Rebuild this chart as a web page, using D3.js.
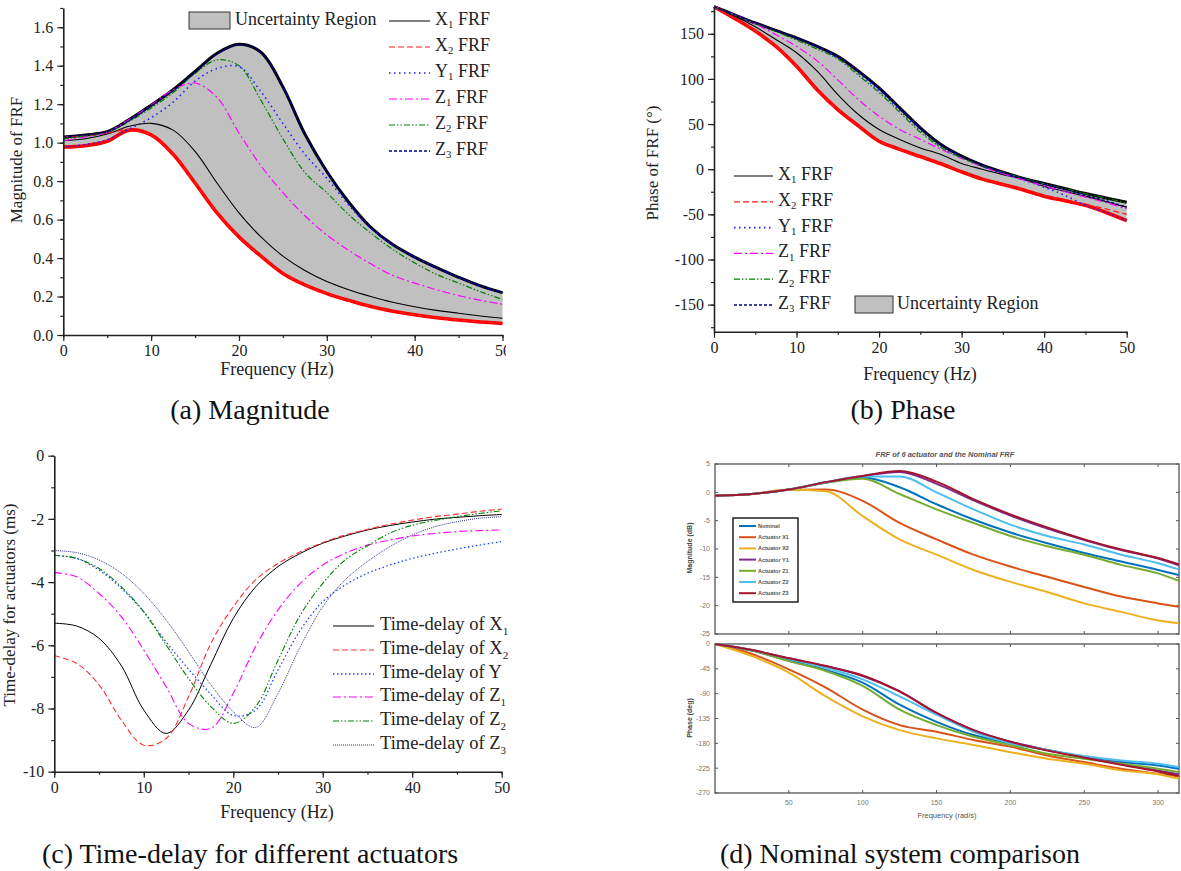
<!DOCTYPE html>
<html>
<head>
<meta charset="utf-8">
<script src="https://cdn.jsdelivr.net/npm/d3@7"></script>
<style>
  body { margin: 0; background: #fff; }
  svg { display: block; font-family: "Liberation Serif", "Times New Roman", serif; }
</style>
</head>
<body>
<svg id="fig" width="1181" height="871"></svg>
<script>
// ---- data ----
const freqHz = [0, 2.5, 5, 7.5, 10, 12.5, 15, 17.5, 20, 22.5, 25, 27.5, 30, 32.5, 35, 37.5, 40, 42.5, 45, 47.5, 50];

// (a) magnitude of FRF
const magUpper = [1.03, 1.04, 1.057, 1.12, 1.195, 1.275, 1.37, 1.465, 1.512, 1.47, 1.29, 1.045, 0.85, 0.69, 0.56, 0.47, 0.405, 0.35, 0.30, 0.255, 0.22];
const magLower = [0.977, 0.984, 1.007, 1.065, 1.04, 0.94, 0.79, 0.635, 0.51, 0.41, 0.32, 0.26, 0.215, 0.18, 0.148, 0.124, 0.105, 0.09, 0.078, 0.068, 0.06];
const magX1 = [1.01, 1.02, 1.045, 1.085, 1.10, 1.065, 0.955, 0.79, 0.635, 0.51, 0.41, 0.335, 0.278, 0.235, 0.2, 0.17, 0.147, 0.128, 0.113, 0.099, 0.087];
const magX2 = [1.03, 1.035, 1.05, 1.068, 1.04, 0.94, 0.79, 0.635, 0.51, 0.41, 0.32, 0.26, 0.215, 0.18, 0.148, 0.124, 0.105, 0.09, 0.078, 0.068, 0.06];
const magY1 = [0.977, 0.99, 1.015, 1.07, 1.13, 1.21, 1.32, 1.385, 1.395, 1.265, 1.1, 0.94, 0.815, 0.675, 0.555, 0.47, 0.405, 0.35, 0.30, 0.255, 0.22];
const magZ1 = [1.01, 1.03, 1.055, 1.12, 1.195, 1.275, 1.31, 1.235, 1.05, 0.88, 0.74, 0.62, 0.52, 0.44, 0.37, 0.31, 0.27, 0.235, 0.205, 0.18, 0.16];
const magZ2 = [1.02, 1.035, 1.055, 1.11, 1.18, 1.26, 1.36, 1.43, 1.40, 1.22, 1.02, 0.845, 0.74, 0.625, 0.53, 0.445, 0.375, 0.315, 0.27, 0.225, 0.185];
const magZ3 = [1.03, 1.04, 1.057, 1.115, 1.19, 1.27, 1.365, 1.46, 1.51, 1.468, 1.29, 1.045, 0.85, 0.69, 0.56, 0.47, 0.405, 0.35, 0.30, 0.255, 0.22];

// (b) phase of FRF (deg)
const phUpper = [180, 171, 162, 153.7, 145.5, 136, 125, 108.6, 90, 68, 45.8, 27.3, 14.4, 4.4, -3.3, -10.3, -15.9, -21.4, -27, -31.8, -36.6];
const phLower = [180, 167, 153, 136, 114, 88, 66, 48, 31, 22, 14, 6, -3, -11, -17, -23, -30, -35, -40, -48, -57];
const phX1 = [180, 169.6, 157.7, 143.7, 129, 108.6, 82.7, 60.6, 44, 33, 23.6, 16.2, 6.3, 0, -6, -11.5, -19, -24.5, -30, -36, -42];
const phX2 = [180, 167, 153, 136, 114, 88, 66, 48, 31, 22, 14, 6, -3, -11, -17, -23, -29, -34, -39, -44, -50];
const phY1 = [180, 171, 162, 153.5, 145, 135, 123, 106, 87, 65, 43, 25, 13, 3, -5, -12, -20, -29, -40, -48, -57];
const phZ1 = [180, 171, 161, 149, 136, 120, 99, 77, 58.7, 44, 33, 22, 12, 3, -5, -12, -18.5, -25, -31, -37, -44];
const phZ2 = [180, 170.5, 161.5, 152.5, 143, 133, 122, 104, 85, 63, 41, 24, 12.5, 3.5, -3.5, -10, -16, -21.5, -27, -32, -37.5];
const phZ3 = [180, 171, 162, 153.7, 145.5, 136, 125, 108.6, 90, 68, 45.8, 27.3, 14.4, 4.4, -3.3, -10.3, -16.5, -22.5, -29, -35, -42];

// (c) time-delay (ms)
const tdX1 = [-5.3, -5.39, -5.78, -6.65, -8.05, -8.79, -8.05, -6.6, -5.15, -4.15, -3.51, -3.09, -2.77, -2.54, -2.35, -2.21, -2.1, -2.01, -1.95, -1.9, -1.86];
const tdX2 = [-6.33, -6.57, -7.25, -8.37, -9.16, -8.95, -7.63, -5.94, -4.78, -3.93, -3.41, -3.04, -2.75, -2.51, -2.33, -2.17, -2.04, -1.93, -1.85, -1.76, -1.69];
const tdY = [-3.15, -3.25, -3.62, -4.2, -4.94, -5.9, -6.75, -7.55, -8.22, -8.05, -6.78, -5.52, -4.62, -4.09, -3.72, -3.46, -3.25, -3.09, -2.95, -2.83, -2.72];
const tdZ1 = [-3.7, -3.83, -4.36, -5.1, -6.15, -7.31, -8.47, -8.63, -7.52, -6.04, -4.88, -4.04, -3.46, -3.09, -2.83, -2.67, -2.54, -2.46, -2.4, -2.37, -2.35];
const tdZ2 = [-3.15, -3.25, -3.57, -4.15, -4.94, -5.99, -7.05, -7.94, -8.47, -7.94, -6.47, -5.04, -4.04, -3.3, -2.85, -2.45, -2.2, -2.05, -1.93, -1.83, -1.74];
const tdZ3 = [-3.0, -3.07, -3.3, -3.72, -4.36, -5.2, -6.2, -7.25, -8.1, -8.6, -7.52, -6.04, -4.78, -3.93, -3.35, -2.88, -2.51, -2.25, -2.09, -1.98, -1.93];

// (d) nominal comparison, frequency in rad/s
const freqRad = [0, 25, 50, 75, 100, 125, 150, 175, 200, 225, 250, 275, 300, 314];
const dMagNominal = [-0.6, -0.3, 0.5, 1.7, 2.6, 0.9, -2.1, -4.8, -7.1, -9.0, -10.7, -12.2, -13.7, -14.6];
const dMagX1 = [-0.6, -0.3, 0.45, 0.5, -1.5, -5.4, -8.3, -11, -13.1, -14.9, -16.7, -18.4, -19.6, -20.2];
const dMagX2 = [-0.6, -0.3, 0.5, 0.2, -4.2, -8.3, -11, -13.7, -15.8, -17.6, -19.6, -21.1, -22.6, -23.1];
const dMagY1 = [-0.6, -0.3, 0.5, 1.8, 2.9, 3.6, 1.5, -1.4, -4.1, -6.4, -8.4, -10.2, -11.7, -12.9];
const dMagZ1 = [-0.6, -0.3, 0.5, 1.7, 2.4, -0.3, -3.0, -5.4, -7.7, -9.5, -11, -12.8, -14.3, -15.6];
const dMagZ2 = [-0.6, -0.3, 0.5, 1.8, 2.8, 2.8, 0, -3, -5.7, -7.7, -9.2, -11, -12.5, -13.6];
const dMagZ3 = [-0.6, -0.3, 0.5, 1.8, 2.9, 3.75, 1.9, -1.2, -3.9, -6.2, -8.3, -10.1, -11.6, -12.7];

const dPhNominal = [0, -12, -30, -47, -70, -110, -141, -165, -180, -192, -205, -214, -220, -226];
const dPhX1 = [0, -18, -46, -79, -119, -147, -159, -174, -186, -202, -214, -226, -235, -240];
const dPhX2 = [0, -22, -52, -95, -131, -156, -171, -183, -196, -208, -217, -229, -236, -244];
const dPhY1 = [0, -11, -26, -40, -58, -86, -125, -156, -177, -192, -205, -217, -229, -236];
const dPhZ1 = [0, -12, -31, -49, -76, -119, -147, -168, -183, -199, -208, -217, -226, -232];
const dPhZ2 = [0, -11, -27, -43, -64, -95, -128, -159, -180, -192, -203, -211, -217, -223];
const dPhZ3 = [0, -11, -26, -40, -57, -86, -125, -156, -177, -193, -206, -219, -231, -239];

// ---- styles ----
const lineStyle = {
    X1: { color: "#000000", dash: null, w: 1.1 },
    X2: { color: "#ff1a1a", dash: "6,3", w: 1.2 },
    Y1: { color: "#1f1fff", dash: "1.5,3.5", w: 1.6 },
    Z1: { color: "#ff00ff", dash: "8,3,2,3", w: 1.2 },
    Z2: { color: "#008000", dash: "6,2,1.5,2,1.5,2", w: 1.2 },
    Z3: { color: "#000090", dash: "3,2", w: 1.4 }
};
const matlabColors = ["#0072BD", "#D95319", "#EDB120", "#7E2F8E", "#77AC30", "#4DBEEE", "#A2142F"];

const svg = d3.select("#fig");
const ink = "#222";
const serif = "Liberation Serif";

// label with a subscript, e.g. X<sub>1</sub> FRF
function subLabel(sel, x, y, base, sub, tail, size) {
    const t = sel.append("text")
        .attr("x", x).attr("y", y)
        .attr("font-family", serif)
        .attr("font-size", size)
        .attr("fill", ink)
        .attr("dominant-baseline", "middle");
    t.append("tspan").text(base);
    if (sub) {
        t.append("tspan").text(sub).attr("font-size", size * 0.6).attr("dy", size * 0.3);
        t.append("tspan").text(tail).attr("dy", -size * 0.3);
    } else {
        t.append("tspan").text(tail);
    }
    return t;
}

function title(sel, x, y, txt, size, rotate) {
    return sel.append("text")
        .attr("transform", `translate(${x},${y})` + (rotate ? " rotate(-90)" : ""))
        .attr("text-anchor", "middle")
        .attr("font-family", serif)
        .attr("font-size", size)
        .attr("fill", ink)
        .text(txt);
}

// Origin-style axes: left + bottom spines, outward major/minor ticks
function originAxes(g, x, y, xMajor, xMinor, yMajor, yMinor, yFmt) {
    const [y0] = y.range();
    const [x0] = x.range();
    g.append("g").attr("transform", `translate(0,${y0})`)
        .call(d3.axisBottom(x).tickValues(xMinor).tickSize(3).tickFormat(""))
        .call(a => a.select(".domain").remove());
    g.append("g").attr("transform", `translate(0,${y0})`)
        .call(d3.axisBottom(x).tickValues(xMajor).tickSize(6).tickSizeOuter(0).tickPadding(4).tickFormat(d => String(d)))
        .call(a => a.selectAll("text").attr("font-size", 16).attr("font-family", serif).attr("fill", ink));
    g.append("g").attr("transform", `translate(${x0},0)`)
        .call(d3.axisLeft(y).tickValues(yMinor).tickSize(3).tickFormat(""))
        .call(a => a.select(".domain").remove());
    g.append("g").attr("transform", `translate(${x0},0)`)
        .call(d3.axisLeft(y).tickValues(yMajor).tickSize(6).tickSizeOuter(0).tickPadding(4).tickFormat(yFmt))
        .call(a => a.selectAll("text").attr("font-size", 16).attr("font-family", serif).attr("fill", ink));
    g.selectAll(".domain").attr("stroke", ink).attr("stroke-width", 1.6);
    g.selectAll(".tick line").attr("stroke", ink).attr("stroke-width", 1.2);
}

function drawSeries(g, x, y, xs, ys, st, curve) {
    const line = d3.line().x((d, i) => x(xs[i])).y(d => y(d)).curve(curve || d3.curveCatmullRom);
    g.append("path").datum(ys)
        .attr("d", line)
        .attr("fill", "none")
        .attr("stroke", st.color)
        .attr("stroke-width", st.w)
        .attr("stroke-dasharray", st.dash);
}

function drawBand(g, x, y, lower, upper) {
    const area = d3.area().x((d, i) => x(freqHz[i])).y0(d => y(d)).y1((d, i) => y(upper[i])).curve(d3.curveCatmullRom);
    g.append("path").datum(lower).attr("d", area).attr("fill", "#c0c0c0");
    drawSeries(g, x, y, freqHz, upper, { color: "#000", dash: null, w: 3 });
    drawSeries(g, x, y, freqHz, lower, { color: "#ff0000", dash: null, w: 3.6 });
}

const seriesKeys = ["X1", "X2", "Y1", "Z1", "Z2", "Z3"];
const hzTicks = d3.range(0, 51, 10);
const hzMinor = d3.range(0, 51, 5);

// ---------- (a) Magnitude ----------
svg.append("clipPath").attr("id", "clipA").append("rect").attr("x", 0).attr("y", 0).attr("width", 506).attr("height", 430);
const gA = svg.append("g").attr("clip-path", "url(#clipA)");
const xA = d3.scaleLinear().domain([0, 50]).range([63.3, 502.5]);
const yA = d3.scaleLinear().domain([0, 1.7]).range([335, 8]);
drawBand(gA, xA, yA, magLower, magUpper);
const magSets = { X1: magX1, X2: magX2, Y1: magY1, Z1: magZ1, Z2: magZ2, Z3: magZ3 };
seriesKeys.forEach(k => drawSeries(gA, xA, yA, freqHz, magSets[k], lineStyle[k]));
originAxes(gA, xA, yA, hzTicks, hzMinor, d3.range(0, 1.61, 0.2), d3.range(0, 1.71, 0.1), d3.format(".1f"));
title(gA, 277, 375, "Frequency (Hz)", 18);
title(gA, 22, 160, "Magnitude of FRF", 17, true);

// legend (a)
gA.append("rect").attr("x", 189).attr("y", 12).attr("width", 41).attr("height", 17).attr("fill", "#c0c0c0").attr("stroke", "#333").attr("stroke-width", 1);
subLabel(gA, 235, 21, "Uncertainty Region", "", "", 18);
const legA = [["X", "1"], ["X", "2"], ["Y", "1"], ["Z", "1"], ["Z", "2"], ["Z", "3"]];
seriesKeys.forEach((k, i) => {
    const yy = 21 + i * 26;
    const st = lineStyle[k];
    gA.append("line").attr("x1", 389).attr("x2", 430).attr("y1", yy).attr("y2", yy)
        .attr("stroke", st.color).attr("stroke-width", st.w).attr("stroke-dasharray", st.dash);
    subLabel(gA, 435, yy, legA[i][0], legA[i][1], " FRF", 18);
});

// ---------- (b) Phase ----------
const gB = svg.append("g");
const xB = d3.scaleLinear().domain([0, 50]).range([714, 1126.7]);
const yB = d3.scaleLinear().domain([-180, 180]).range([331.7, 6.7]);
drawBand(gB, xB, yB, phLower, phUpper);
const phSets = { X1: phX1, X2: phX2, Y1: phY1, Z1: phZ1, Z2: phZ2, Z3: phZ3 };
seriesKeys.forEach(k => drawSeries(gB, xB, yB, freqHz, phSets[k], lineStyle[k]));
originAxes(gB, xB, yB, hzTicks, hzMinor, d3.range(-150, 151, 50), d3.range(-175, 176, 25), d => String(d));
title(gB, 920, 380, "Frequency (Hz)", 18);
title(gB, 658, 163, "Phase of FRF (°)", 17, true);

seriesKeys.forEach((k, i) => {
    const yy = 176 + i * 25.8;
    const st = lineStyle[k];
    gB.append("line").attr("x1", 734).attr("x2", 773).attr("y1", yy).attr("y2", yy)
        .attr("stroke", st.color).attr("stroke-width", st.w).attr("stroke-dasharray", st.dash);
    subLabel(gB, 778, yy, legA[i][0], legA[i][1], " FRF", 18);
});
gB.append("rect").attr("x", 855).attr("y", 296).attr("width", 38).attr("height", 17).attr("fill", "#c0c0c0").attr("stroke", "#333").attr("stroke-width", 1);
subLabel(gB, 897, 305, "Uncertainty Region", "", "", 18);

// ---------- (c) Time-delay ----------
const gC = svg.append("g");
const xC = d3.scaleLinear().domain([0, 50]).range([54.3, 501.7]);
const yC = d3.scaleLinear().domain([-10, 0]).range([771.7, 455.7]);
const tdStyle = {
    X1: { color: "#000000", dash: null, w: 1 },
    X2: { color: "#ff3030", dash: "6,3", w: 1.1 },
    Y1: { color: "#2040ff", dash: "1.5,2.5", w: 1.3 },
    Z1: { color: "#ff00ff", dash: "8,3,2,3", w: 1.1 },
    Z2: { color: "#008000", dash: "6,2,1.5,2,1.5,2", w: 1.1 },
    Z3: { color: "#303090", dash: "1,1", w: 1 }
};
const tdSets = { X1: tdX1, X2: tdX2, Y1: tdY, Z1: tdZ1, Z2: tdZ2, Z3: tdZ3 };
seriesKeys.forEach(k => drawSeries(gC, xC, yC, freqHz, tdSets[k], tdStyle[k]));
originAxes(gC, xC, yC, hzTicks, hzMinor, d3.range(-10, 1, 2), d3.range(-10, 1, 1), d => String(d));
title(gC, 277, 818, "Frequency (Hz)", 18);
title(gC, 15, 605, "Time-delay for actuators (ms)", 17, true);

const legC = [["X", "1"], ["X", "2"], ["Y", ""], ["Z", "1"], ["Z", "2"], ["Z", "3"]];
const legCy = [626, 650, 674, 697, 721, 745];
seriesKeys.forEach((k, i) => {
    const st = tdStyle[k];
    gC.append("line").attr("x1", 333).attr("x2", 374).attr("y1", legCy[i]).attr("y2", legCy[i])
        .attr("stroke", st.color).attr("stroke-width", st.w).attr("stroke-dasharray", st.dash);
    subLabel(gC, 380, legCy[i], "Time-delay of " + legC[i][0], legC[i][1], "", 18.5);
});

// ---------- (d) Nominal system comparison ----------
const sans = "Liberation Sans";
const gD = svg.append("g");
const xD = d3.scaleLinear().domain([0, 314.16]).range([715, 1179]);
const yDm = d3.scaleLinear().domain([-25, 5]).range([634, 464]);
const yDp = d3.scaleLinear().domain([-270, 0]).range([793, 644]);
const radTicks = [50, 100, 150, 200, 250, 300];
const dGray = "#555";

function matlabBox(y, yTicks, showX) {
    const [yb, yt] = y.range();
    gD.append("rect").attr("x", xD.range()[0]).attr("y", yt).attr("width", xD.range()[1] - xD.range()[0]).attr("height", yb - yt)
        .attr("fill", "#fff").attr("stroke", dGray).attr("stroke-width", 1.3);
    const tk = gD.append("g").attr("stroke", dGray).attr("stroke-width", 1);
    radTicks.forEach(t => {
        tk.append("line").attr("x1", xD(t)).attr("x2", xD(t)).attr("y1", yb).attr("y2", yb - 3);
        tk.append("line").attr("x1", xD(t)).attr("x2", xD(t)).attr("y1", yt).attr("y2", yt + 3);
        if (showX) gD.append("text").attr("x", xD(t)).attr("y", yb + 12).attr("text-anchor", "middle")
            .attr("font-family", sans).attr("font-size", 7).attr("fill", "#777").text(t);
    });
    yTicks.forEach(t => {
        tk.append("line").attr("x1", xD.range()[0]).attr("x2", xD.range()[0] + 3).attr("y1", y(t)).attr("y2", y(t));
        tk.append("line").attr("x1", xD.range()[1]).attr("x2", xD.range()[1] - 3).attr("y1", y(t)).attr("y2", y(t));
        gD.append("text").attr("x", 710).attr("y", y(t)).attr("dy", "0.35em").attr("text-anchor", "end")
            .attr("font-family", sans).attr("font-size", 7).attr("fill", "#777").text(t);
    });
}
matlabBox(yDm, d3.range(-25, 6, 5), false);
matlabBox(yDp, d3.range(-270, 1, 45), true);

const dMagSets = [dMagNominal, dMagX1, dMagX2, dMagY1, dMagZ1, dMagZ2, dMagZ3];
const dPhSets = [dPhNominal, dPhX1, dPhX2, dPhY1, dPhZ1, dPhZ2, dPhZ3];
dMagSets.forEach((s, i) => drawSeries(gD, xD, yDm, freqRad, s, { color: matlabColors[i], dash: null, w: 2 }, d3.curveMonotoneX));
dPhSets.forEach((s, i) => drawSeries(gD, xD, yDp, freqRad, s, { color: matlabColors[i], dash: null, w: 2 }, d3.curveMonotoneX));

gD.append("text").attr("x", 945).attr("y", 457).attr("text-anchor", "middle").attr("font-family", sans).attr("font-size", 7.5)
    .attr("font-style", "italic").attr("font-weight", "bold").attr("fill", "#555").text("FRF of 6 actuator and the Nominal FRF");
gD.append("text").attr("transform", "translate(692,548) rotate(-90)").attr("text-anchor", "middle").attr("font-family", sans).attr("font-size", 7)
    .attr("font-weight", "bold").attr("fill", "#444").text("Magnitude (dB)");
gD.append("text").attr("transform", "translate(692,718) rotate(-90)").attr("text-anchor", "middle").attr("font-family", sans).attr("font-size", 7)
    .attr("font-weight", "bold").attr("fill", "#444").text("Phase (deg)");
gD.append("text").attr("x", 947).attr("y", 818).attr("text-anchor", "middle").attr("font-family", sans).attr("font-size", 7.5)
    .attr("fill", "#555").text("Frequency (rad/s)");

const legDNames = ["Nominal", "Actuator X1", "Actuator X2", "Actuator Y1", "Actuator Z1", "Actuator Z2", "Actuator Z3"];
gD.append("rect").attr("x", 733).attr("y", 518).attr("width", 65).attr("height", 84)
    .attr("fill", "#fff").attr("stroke", "#222").attr("stroke-width", 1.5);
legDNames.forEach((n, i) => {
    const yy = 526 + i * 11.2;
    gD.append("line").attr("x1", 739).attr("x2", 756).attr("y1", yy).attr("y2", yy)
        .attr("stroke", matlabColors[i]).attr("stroke-width", 2);
    gD.append("text").attr("x", 758).attr("y", yy).attr("dy", "0.35em").attr("font-family", sans).attr("font-size", 5.5)
        .attr("font-weight", "bold").attr("fill", "#555").text(n);
});

// ---------- captions ----------
const captions = [
    { t: "(a) Magnitude", x: 250, y: 419 },
    { t: "(b) Phase", x: 903, y: 419 },
    { t: "(c) Time-delay for different actuators", x: 250, y: 863 },
    { t: "(d) Nominal system comparison", x: 900, y: 863 }
];
svg.selectAll("text.caption").data(captions).join("text")
    .attr("class", "caption")
    .attr("x", d => d.x).attr("y", d => d.y)
    .attr("text-anchor", "middle")
    .attr("font-family", serif)
    .attr("font-size", 28)
    .attr("fill", "#111")
    .text(d => d.t);
</script>
</body>
</html>
